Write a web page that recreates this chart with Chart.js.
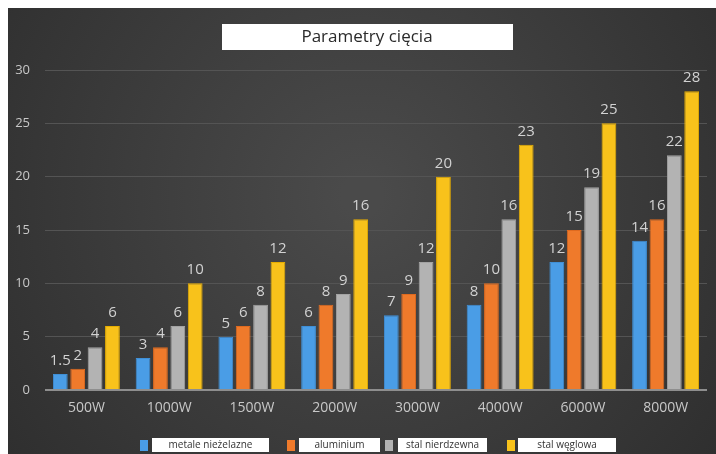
<!DOCTYPE html>
<html>
<head>
<meta charset="utf-8">
<script src="https://cdn.jsdelivr.net/npm/chart.js@4/dist/chart.umd.min.js"></script>
<style>
  html, body { margin: 0; padding: 0; background: #fff; }
  #wrap { position: absolute; left: 8px; top: 8px; width: 708px; height: 446px; }
</style>
</head>
<body>
<div id="wrap"><canvas id="chart" width="708" height="446"></canvas></div>
<script>
const labels = ["500W", "1000W", "1500W", "2000W", "3000W", "4000W", "6000W", "8000W"];
const metaleNiezelazne = [1.5, 3, 5, 6, 7, 8, 12, 14];
const aluminium = [2, 4, 6, 8, 9, 10, 15, 16];
const stalNierdzewna = [4, 6, 8, 9, 12, 16, 19, 22];
const stalWeglowa = [6, 10, 12, 16, 20, 23, 25, 28];
const seriesNames = ["metale nieżelazne", "aluminium", "stal nierdzewna", "stal węglowa"];
const yTicks = [0, 5, 10, 15, 20, 25, 30];

const FONT = "'Open Sans', sans-serif";

// dark radial background + white title box
const backdrop = {
  id: 'backdrop',
  beforeDraw(chart) {
    const c = chart.ctx, w = chart.width, h = chart.height;
    c.save();
    const g = c.createRadialGradient(w * 0.5, h * 0.42, 20, w * 0.5, h * 0.42, w * 0.62);
    g.addColorStop(0, '#4a4a4a');
    g.addColorStop(1, '#2f2f2f');
    c.fillStyle = g;
    c.fillRect(0, 0, w, h);
    // title
    c.fillStyle = '#ffffff';
    c.fillRect(214, 16, 291, 26);
    c.fillStyle = '#2a2a2a';
    c.font = '17px ' + FONT;
    c.textAlign = 'center';
    c.textBaseline = 'middle';
    c.fillText('Parametry cięcia', 359, 29);
    c.restore();
  }
};

// values above the bars
const valueLabels = {
  id: 'valueLabels',
  afterDatasetsDraw(chart) {
    const c = chart.ctx;
    c.save();
    c.fillStyle = '#d2d2d2';
    c.font = '15px ' + FONT;
    c.textAlign = 'center';
    c.textBaseline = 'alphabetic';
    chart.data.datasets.forEach((ds, i) => {
      chart.getDatasetMeta(i).data.forEach((bar, j) => {
        c.fillText(String(ds.data[j]), bar.x, bar.y - 9);
      });
    });
    c.restore();
  }
};

// legend: colour square + white label box
const boxLegend = {
  id: 'boxLegend',
  afterDraw(chart) {
    const c = chart.ctx;
    const sq = [132, 279, 377, 499];
    const boxes = [[144, 117], [291, 81], [390, 89], [510, 98]];
    c.save();
    c.font = '10px ' + FONT;
    c.textAlign = 'center';
    c.textBaseline = 'middle';
    chart.data.datasets.forEach((ds, i) => {
      c.fillStyle = ds.backgroundColor;
      c.fillRect(sq[i], 432, 8, 11);
      c.fillStyle = '#ffffff';
      c.fillRect(boxes[i][0], 430, boxes[i][1], 14);
      c.fillStyle = '#333333';
      c.fillText(ds.label, boxes[i][0] + boxes[i][1] / 2, 437);
    });
    c.restore();
  }
};

const colors = ['#4a9de6', '#ef7a2b', '#b3b3b3', '#f8c21b'];
const borders = ['#3f8fd6', '#df6a1f', '#a3a3a3', '#e6ad00'];

new Chart(document.getElementById('chart'), {
  type: 'bar',
  data: {
    labels: labels,
    datasets: [metaleNiezelazne, aluminium, stalNierdzewna, stalWeglowa].map((d, i) => ({
      label: seriesNames[i],
      data: d,
      backgroundColor: colors[i],
      borderColor: borders[i],
      borderWidth: 1,
      borderSkipped: 'bottom',
      categoryPercentage: 0.84,
      barPercentage: 0.85
    }))
  },
  options: {
    responsive: false,
    animation: false,
    layout: { padding: { top: 62, right: 9, bottom: 34, left: 0 } },
    plugins: {
      legend: { display: false },
      title: { display: false },
      tooltip: { enabled: false }
    },
    scales: {
      x: {
        grid: { display: false, drawTicks: false },
        border: { display: false },
        ticks: { color: '#c8c8c8', font: { family: FONT, size: 14 }, padding: 10 },
        afterFit(s) { s.height = 30; }
      },
      y: {
        min: 0,
        max: 30,
        afterBuildTicks(s) { s.ticks = yTicks.map(v => ({ value: v })); },
        afterFit(s) { s.width = 37; },
        border: { display: false },
        grid: {
          drawTicks: false,
          color: ctx => ctx.tick.value === 0 ? '#8e8e8e' : '#545454',
          lineWidth: ctx => ctx.tick.value === 0 ? 2 : 1
        },
        ticks: { color: '#c8c8c8', font: { family: FONT, size: 13 }, padding: 15 }
      }
    }
  },
  plugins: [backdrop, valueLabels, boxLegend]
});
</script>
</body>
</html>
